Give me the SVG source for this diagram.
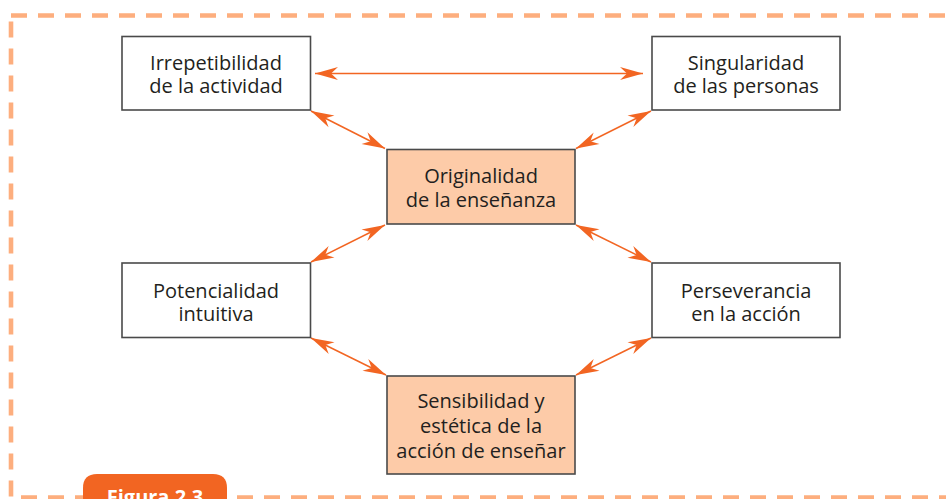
<svg xmlns="http://www.w3.org/2000/svg" width="946" height="499" viewBox="0 0 946 499">
<style>
.box{fill:#fff;stroke:#4a4a4a;stroke-width:1.6}
.hl{fill:#FDCBA8;stroke:#4a4a4a;stroke-width:1.6}
.t{font-family:"Open Sans","Noto Sans",sans-serif;font-size:20px;fill:#231F20;text-anchor:middle}
.c{stroke:#F26522;stroke-width:1.5;fill:none;marker-start:url(#ah);marker-end:url(#ah)}
</style>
<defs>
<marker id="ah" viewBox="-25 -8 27 16" refX="0" refY="0" markerWidth="27" markerHeight="16" markerUnits="userSpaceOnUse" orient="auto-start-reverse">
<path d="M0,0 L-23,-6.5 L-16,0 L-23,6.5 Z" fill="#F26522"/>
</marker>
</defs>
<rect x="11" y="15.5" width="960" height="482" fill="none" stroke="#FDAE7E" stroke-width="4.6" stroke-dasharray="16 11"/>
<g id="connectors">
<line class="c" x1="315" y1="73.5" x2="643" y2="73.5"/>
<line class="c" x1="311" y1="111" x2="385" y2="148.5"/>
<line class="c" x1="651" y1="111" x2="576" y2="148.5"/>
<line class="c" x1="385" y1="225" x2="311" y2="262"/>
<line class="c" x1="576" y1="225" x2="651" y2="262"/>
<line class="c" x1="311" y1="338" x2="386" y2="375"/>
<line class="c" x1="651" y1="338" x2="576" y2="375"/>
</g>
<g id="irrepetibilidad">
<rect class="box" x="122" y="36.5" width="188.5" height="73.5"/>
<text class="t" x="216" y="70">Irrepetibilidad</text>
<text class="t" x="216" y="93">de la actividad</text>
</g>
<g id="singularidad">
<rect class="box" x="652" y="36.5" width="188" height="73.5"/>
<text class="t" x="746" y="70">Singularidad</text>
<text class="t" x="746" y="93">de las personas</text>
</g>
<g id="originalidad">
<rect class="hl" x="387" y="149.5" width="188" height="74.5"/>
<text class="t" x="481" y="183">Originalidad</text>
<text class="t" x="481" y="206.5">de la enseñanza</text>
</g>
<g id="potencialidad">
<rect class="box" x="122" y="263" width="188.5" height="74.5"/>
<text class="t" x="216" y="297.5">Potencialidad</text>
<text class="t" x="216" y="320.5">intuitiva</text>
</g>
<g id="perseverancia">
<rect class="box" x="652" y="263" width="188" height="74.5"/>
<text class="t" x="746" y="297.5">Perseverancia</text>
<text class="t" x="746" y="320.5">en la acción</text>
</g>
<g id="sensibilidad">
<rect class="hl" x="387" y="376" width="188" height="98"/>
<text class="t" x="481" y="407.5">Sensibilidad y</text>
<text class="t" x="481" y="433">estética de la</text>
<text class="t" x="481" y="458">acción de enseñar</text>
</g>
<g id="figura">
<path d="M83,505 L83,488 Q83,474 97,474 L213,474 Q227,474 227,488 L227,505 Z" fill="#F26522"/>
<text x="155" y="504" font-family="'Open Sans','Noto Sans',sans-serif" font-size="20" font-weight="bold" fill="#fff" text-anchor="middle">Figura 2.3</text>
</g>
</svg>
